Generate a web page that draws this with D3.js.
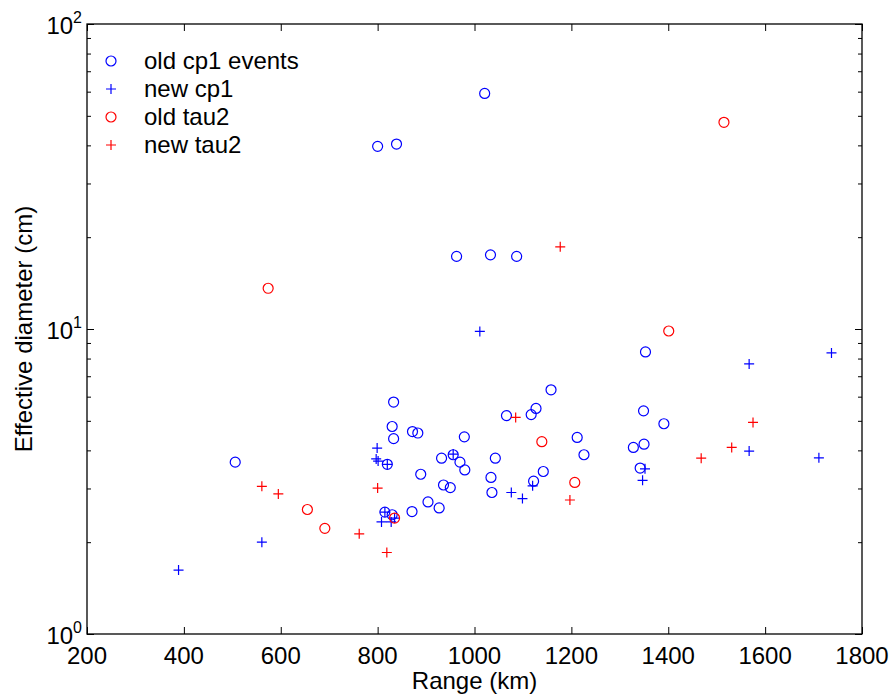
<!DOCTYPE html>
<html lang="en">
<head>
  <meta charset="UTF-8">
  <title>Effective diameter vs range</title>
  <style>
    body { margin: 0; background: #fff; }
    svg text { font-family: "Liberation Sans", Arial, Helvetica, sans-serif; fill: #000; }
  </style>
</head>
<body>
  <svg id="chart" width="894" height="699"></svg>
  <script src="https://cdn.jsdelivr.net/npm/d3@7"></script>
  <script>

  // [range km, effective diameter cm]
  var oldCp1 = [
    [506, 3.66], [800, 39.7], [839, 40.4], [1021, 59.2], [963, 17.3], [1033, 17.5], [1087, 17.3],
    [833, 5.76], [830, 4.79], [833, 4.37], [872, 4.61], [883, 4.56], [979, 4.43], [932, 3.77],
    [956, 3.87], [970, 3.66], [980, 3.45], [1043, 3.77], [889, 3.34], [1034, 3.26], [936, 3.08],
    [950, 3.02], [1036, 2.91], [904, 2.71], [927, 2.59], [871, 2.52], [1122, 3.17], [1142, 3.41],
    [1066, 5.20], [1117, 5.24], [1127, 5.49], [1158, 6.32], [1212, 4.41], [1226, 3.87],
    [1353, 8.41], [1349, 5.39], [1391, 4.89], [1328, 4.09], [1350, 4.19], [1342, 3.50],
    [820, 3.60], [815, 2.51], [830, 2.46]
  ];
  var newCp1 = [
    [389, 1.62], [561, 2.00], [799, 4.07], [797, 3.75], [801, 3.69], [820, 3.60], [815, 2.51],
    [808, 2.33], [828, 2.33], [835, 2.40], [956, 3.89], [1011, 9.82], [1076, 2.91], [1099, 2.78],
    [1120, 3.06], [1352, 3.48], [1347, 3.19], [1567, 7.68], [1567, 3.98], [1711, 3.78], [1737, 8.35]
  ];
  var oldTau2 = [
    [574, 13.6], [655, 2.56], [691, 2.22], [835, 2.40], [1139, 4.27], [1207, 3.14], [1401, 9.85], [1515, 47.6]
  ];
  var newTau2 = [
    [561, 3.05], [595, 2.88], [762, 2.13], [800, 3.01], [819, 1.85], [1085, 5.13], [1177, 18.6],
    [1197, 2.75], [1468, 3.77], [1531, 4.09], [1575, 4.94]
  ];

  var xTicks = [200, 400, 600, 800, 1000, 1200, 1400, 1600, 1800];
  var yDecades = [1, 10, 100];
  var legendLabels = ['old cp1 events', 'new cp1', 'old tau2', 'new tau2'];

  var plotLeft = 87, plotRight = 862, plotTop = 24, plotBottom = 634;
  var fs = 24;

  var svg = d3.select('#chart');
  var x = d3.scaleLinear().domain([200, 1800]).range([plotLeft, plotRight]);
  var y = d3.scaleLog().domain([1, 100]).range([plotBottom, plotTop]);

  var minorY = y.ticks().filter(function (v) { return yDecades.indexOf(v) < 0; });

  // ticks, pointing inward on all four sides
  function styleAxis(g) {
    g.select('.domain').remove();
    g.selectAll('line').attr('stroke', '#000').attr('stroke-width', 1);
    g.selectAll('text').remove();
  }
  svg.append('g').attr('transform', 'translate(0,' + plotBottom + ')')
    .call(d3.axisBottom(x).tickValues(xTicks).tickSize(-7)).call(styleAxis);
  svg.append('g').attr('transform', 'translate(0,' + plotTop + ')')
    .call(d3.axisTop(x).tickValues(xTicks).tickSize(-7)).call(styleAxis);
  svg.append('g').attr('transform', 'translate(' + plotLeft + ',0)')
    .call(d3.axisLeft(y).tickValues(yDecades).tickSize(-7)).call(styleAxis);
  svg.append('g').attr('transform', 'translate(' + plotLeft + ',0)')
    .call(d3.axisLeft(y).tickValues(minorY).tickSize(-4)).call(styleAxis);
  svg.append('g').attr('transform', 'translate(' + plotRight + ',0)')
    .call(d3.axisRight(y).tickValues(yDecades).tickSize(-7)).call(styleAxis);
  svg.append('g').attr('transform', 'translate(' + plotRight + ',0)')
    .call(d3.axisRight(y).tickValues(minorY).tickSize(-4)).call(styleAxis);

  // frame
  svg.append('rect')
    .attr('x', plotLeft).attr('y', plotTop)
    .attr('width', plotRight - plotLeft).attr('height', plotBottom - plotTop)
    .attr('fill', 'none').attr('stroke', '#000').attr('stroke-width', 1.3);

  // x tick labels
  svg.append('g').selectAll('text')
    .data(xTicks).enter().append('text')
    .attr('x', function (d) { return x(d); })
    .attr('y', plotBottom + 30)
    .attr('text-anchor', 'middle')
    .attr('font-size', fs)
    .text(function (d) { return d; });

  // y tick labels as 10^n
  var yl = svg.append('g').selectAll('text')
    .data(yDecades).enter().append('text')
    .attr('x', plotLeft - 5)
    .attr('y', function (d) { return y(d) + 10; })
    .attr('text-anchor', 'end')
    .attr('font-size', fs);
  yl.append('tspan').text('10');
  yl.append('tspan').attr('font-size', 16).attr('dy', -11)
    .text(function (d) { return Math.round(Math.log10(d)); });

  // axis titles
  svg.append('text')
    .attr('x', (plotLeft + plotRight) / 2).attr('y', 689)
    .attr('text-anchor', 'middle').attr('font-size', fs)
    .text('Range (km)');
  svg.append('text')
    .attr('transform', 'translate(32,' + ((plotTop + plotBottom) / 2) + ') rotate(-90)')
    .attr('text-anchor', 'middle').attr('font-size', fs)
    .text('Effective diameter (cm)');

  // markers
  var plus = 'M-5,0H5M0,-5V5';
  var plot = svg.append('g');

  function circles(data, color) {
    plot.append('g').selectAll('circle')
      .data(data).enter().append('circle')
      .attr('cx', function (d) { return x(d[0]); })
      .attr('cy', function (d) { return y(d[1]); })
      .attr('r', 5)
      .attr('fill', 'none').attr('stroke', color).attr('stroke-width', 1.2);
  }
  function pluses(data, color) {
    plot.append('g').selectAll('path')
      .data(data).enter().append('path')
      .attr('transform', function (d) { return 'translate(' + x(d[0]) + ',' + y(d[1]) + ')'; })
      .attr('d', plus)
      .attr('fill', 'none').attr('stroke', color).attr('stroke-width', 1.2);
  }
  circles(oldCp1, '#0000ff');
  pluses(newCp1, '#0000ff');
  circles(oldTau2, '#ff0000');
  pluses(newTau2, '#ff0000');

  // legend (no box)
  var legendColors = ['#0000ff', '#0000ff', '#ff0000', '#ff0000'];
  var legendShapes = ['circle', 'plus', 'circle', 'plus'];
  var leg = svg.append('g').selectAll('g')
    .data(legendLabels).enter().append('g')
    .attr('transform', function (d, i) { return 'translate(111,' + (61 + i * 28) + ')'; });
  leg.each(function (d, i) {
    var g = d3.select(this);
    if (legendShapes[i] === 'circle') {
      g.append('circle').attr('r', 5).attr('fill', 'none')
        .attr('stroke', legendColors[i]).attr('stroke-width', 1.2);
    } else {
      g.append('path').attr('d', plus).attr('fill', 'none')
        .attr('stroke', legendColors[i]).attr('stroke-width', 1.2);
    }
    g.append('text').attr('x', 33).attr('y', 7.5)
      .attr('font-size', fs).text(d);
  });

  </script>
</body>
</html>
